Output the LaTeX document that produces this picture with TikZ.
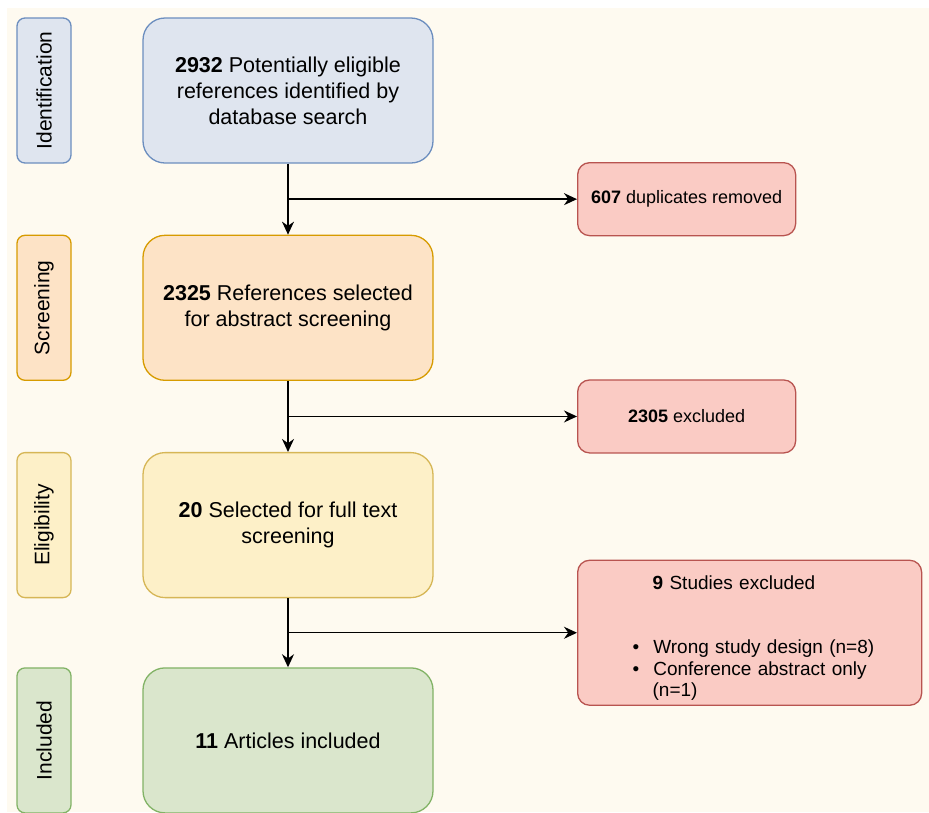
\documentclass[tikz,border=0pt]{standalone}
\usepackage{fontspec}
\setmainfont{Liberation Sans}
\usetikzlibrary{arrows.meta,positioning,calc,backgrounds}

\definecolor{bgcream}{HTML}{FEFAF0}
\definecolor{idfill}{HTML}{DFE5EF}\definecolor{iddraw}{HTML}{6C8EBF}
\definecolor{scfill}{HTML}{FDE3C6}\definecolor{scdraw}{HTML}{D79B00}
\definecolor{elfill}{HTML}{FDF0C8}\definecolor{eldraw}{HTML}{D6B656}
\definecolor{infill}{HTML}{DAE6CC}\definecolor{indraw}{HTML}{82B366}
\definecolor{exfill}{HTML}{FACBC4}\definecolor{exdraw}{HTML}{B85450}

\begin{document}
\begin{tikzpicture}[
  x=1pt, y=1pt,
  >={Stealth[length=13pt, width=12pt]},
  box/.style={rounded corners=22pt, line width=1.3pt, align=center,
              minimum width=290pt, minimum height=145pt, inner sep=4pt,
              font=\fontsize{21.5}{26}\selectfont},
  phase/.style={rounded corners=8pt, line width=1.3pt, rotate=90,
              minimum width=145pt, minimum height=54pt, inner sep=2pt,
              font=\fontsize{21}{24}\selectfont},
  excl/.style={rounded corners=12pt, line width=1.3pt, draw=exdraw, fill=exfill,
              minimum height=73pt, inner sep=4pt, font=\fontsize{18}{22}\selectfont},
  ident/.style={draw=iddraw, fill=idfill},
  scr/.style  ={draw=scdraw, fill=scfill},
  elig/.style ={draw=eldraw, fill=elfill},
  incl/.style ={draw=indraw, fill=infill},
  flow/.style ={->, line width=1.4pt, black},
  node distance=71pt and 72pt,
]

\useasboundingbox (0,0) rectangle (929,-812);
\fill[bgcream] (7,-8) rectangle (929,-812);

% ---------- Main column ----------
\node[box, ident] (idbox) at (288,-90.5)
  {\textbf{2932} Potentially eligible\\references identified by\\database search};
\node[box, scr,  below=of idbox] (scbox)
  {\textbf{2325} References selected\\for abstract screening};
\node[box, elig, below=of scbox] (elbox)
  {\textbf{20} Selected for full text\\screening};
\node[box, incl, below=69pt of elbox] (inbox)
  {\textbf{11} Articles included};

% ---------- Phase labels (left) ----------
\coordinate (labx) at (44,0);
\node[phase, ident] (idlab) at (idbox -| labx) {Identification};
\node[phase, scr]   (sclab) at (scbox -| labx) {Screening};
\node[phase, elig]  (ellab) at (elbox -| labx) {Eligibility};
\node[phase, incl]  (inlab) at (inbox -| labx) {Included};

% ---------- Branch points ----------
\coordinate (br1) at ($(idbox.south)!0.5!(scbox.north)$);
\coordinate (br2) at ($(scbox.south)!0.5!(elbox.north)$);
\coordinate (br3) at ($(elbox.south)!0.5!(inbox.north)$);

% ---------- Exclusions (right) ----------
\node[excl, minimum width=218pt, anchor=west] (dup) at ($(br1)+(289,0)$)
  {\textbf{607} duplicates removed};
\node[excl, minimum width=218pt, anchor=west] (abs) at ($(br2)+(289,0)$)
  {\textbf{2305} excluded};
\node[excl, minimum width=344pt, minimum height=145pt, anchor=west,
      align=left, text width=300pt, font=\fontsize{19}{21.5}\selectfont] (full) at ($(br3)+(289,0)$)
  {\rule{0pt}{24pt}\hspace*{53pt}\textbf{9} Studies excluded\\[43pt]
   \hspace*{33pt}\textbullet\hspace{14pt}Wrong study design (n=8)\\
   \hspace*{33pt}\textbullet\hspace{14pt}Conference abstract only\\
   \hspace*{53pt}(n=1)};

% ---------- Connectors ----------
\draw[flow] (idbox) -- (scbox);
\draw[flow] (scbox) -- (elbox);
\draw[flow] (elbox) -- (inbox);
\draw[flow] (br1) -- (dup);
\draw[flow] (br2) -- (abs);
\draw[flow] (br3) -- (full);

\end{tikzpicture}
\end{document}
